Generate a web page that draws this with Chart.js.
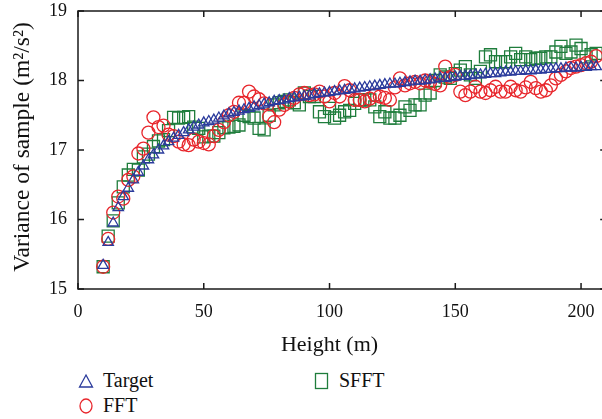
<!DOCTYPE html>
<html>
<head>
<meta charset="utf-8">
<script src="https://cdn.jsdelivr.net/npm/chart.js@4"></script>
<style>
  html, body { margin: 0; padding: 0; background: #fff; }
  body { width: 602px; height: 419px; overflow: hidden; position: relative; }
  #wrap { position: absolute; left: 0; top: 0; width: 616px; height: 360px; }
  .leg { position: absolute; font-family: "Liberation Serif", "DejaVu Serif", serif; font-size: 20px; color: #111; display: flex; align-items: center; }
  .leg svg { margin-right: 9px; }
</style>
</head>
<body>
<div id="wrap"><canvas id="varChart" width="616" height="360"></canvas></div>
<div id="legend"></div>
<script>
// heights (m)
const heights = [10,12,14,16,18,20,22,24,26,28,30,32,34,36,38,40,42,44,46,48,
  50,52,54,56,58,60,62,64,66,68,70,72,74,76,78,80,82,84,86,88,
  90,92,94,96,98,100,102,104,106,108,110,112,114,116,118,120,122,124,126,128,
  130,132,134,136,138,140,142,144,146,148,150,152,154,156,158,160,162,164,166,168,
  170,172,174,176,178,180,182,184,186,188,190,192,194,196,198,200,202,204,206];

const targetVals = [15.34,15.67,15.95,16.17,16.33,16.45,16.57,16.68,16.77,16.86,16.93,17.0,17.06,17.12,17.17,17.21,17.25,17.29,17.33,17.36,
  17.39,17.41,17.43,17.46,17.49,17.52,17.54,17.56,17.58,17.6,17.62,17.64,17.66,17.68,17.7,17.71,17.72,17.74,17.75,17.76,
  17.77,17.78,17.8,17.81,17.82,17.83,17.84,17.85,17.86,17.87,17.88,17.89,17.9,17.91,17.92,17.93,17.94,17.95,17.95,17.96,
  17.97,17.98,17.99,17.99,18.0,18.01,18.02,18.03,18.03,18.04,18.05,18.06,18.06,18.07,18.08,18.08,18.09,18.1,18.1,18.11,
  18.12,18.12,18.13,18.13,18.14,18.14,18.15,18.15,18.16,18.16,18.17,18.17,18.18,18.18,18.18,18.19,18.19,18.2,18.2];

const fftVals = [15.32,15.72,16.1,16.33,16.3,16.57,16.62,16.95,17.02,17.25,17.47,17.33,17.35,17.22,17.2,17.12,17.08,17.07,17.15,17.12,
  17.1,17.08,17.2,17.29,17.4,17.5,17.55,17.68,17.68,17.84,17.77,17.73,17.67,17.48,17.4,17.58,17.65,17.7,17.75,17.8,
  17.82,17.79,17.8,17.84,17.77,17.7,17.82,17.77,17.92,17.86,17.72,17.72,17.7,17.74,17.79,17.77,17.75,17.72,17.9,18.03,
  17.93,17.96,17.98,17.96,18.0,17.98,17.95,17.93,18.2,18.05,18.08,17.84,17.79,17.84,17.91,17.84,17.82,17.86,17.91,17.84,
  17.84,17.91,17.86,17.84,17.9,17.98,17.89,17.84,17.86,17.93,18.03,18.08,18.13,18.18,18.2,18.22,18.25,18.27,18.35];

const sfftVals = [15.32,15.76,15.98,16.24,16.47,16.64,16.72,16.71,16.9,16.94,17.05,17.13,17.15,17.28,17.47,17.46,17.47,17.48,17.33,17.31,
  17.19,17.2,17.2,17.25,17.32,17.33,17.34,17.36,17.5,17.48,17.46,17.31,17.29,17.5,17.65,17.68,17.7,17.72,17.68,17.65,
  17.82,17.77,17.77,17.55,17.48,17.6,17.46,17.5,17.55,17.57,17.67,17.72,17.72,17.72,17.62,17.48,17.55,17.46,17.46,17.5,
  17.62,17.57,17.65,17.65,17.79,17.82,18.0,18.08,18.05,18.03,18.1,18.15,18.2,18.08,18.03,18.13,18.34,18.37,18.27,18.27,
  18.27,18.34,18.39,18.3,18.34,18.3,18.32,18.32,18.34,18.34,18.41,18.49,18.39,18.41,18.51,18.46,18.34,18.37,18.39];

const xTicks = [0, 50, 100, 150, 200];
const yTicks = [15, 16, 17, 18, 19];

const serif = '"Liberation Serif", "DejaVu Serif", serif';
const blue = '#2b3b9c';
const red = '#e8262c';
const green = '#1f7d3c';

function toPoints(vals) {
    return heights.map((h, i) => ({ x: h, y: vals[i] }));
}

// frame, inward ticks and the axis titles
const framePlugin = {
    id: 'frame',
    afterDraw(chart) {
        const ctx = chart.ctx;
        const a = chart.chartArea;
        const xs = chart.scales.x, ys = chart.scales.y;
        ctx.save();
        ctx.strokeStyle = '#1a1a1a';
        ctx.lineWidth = 1.5;
        ctx.strokeRect(a.left, a.top, a.right - a.left, a.bottom - a.top);
        ctx.beginPath();
        xTicks.forEach(v => {
            const px = xs.getPixelForValue(v);
            ctx.moveTo(px, a.bottom); ctx.lineTo(px, a.bottom - 6);
            ctx.moveTo(px, a.top); ctx.lineTo(px, a.top + 6);
        });
        yTicks.forEach(v => {
            const py = ys.getPixelForValue(v);
            ctx.moveTo(a.left, py); ctx.lineTo(a.left + 6, py);
            ctx.moveTo(a.right, py); ctx.lineTo(a.right - 6, py);
        });
        ctx.stroke();
        ctx.fillStyle = '#111';
        ctx.textAlign = 'center';
        ctx.textBaseline = 'middle';
        ctx.font = '22px ' + serif;
        ctx.fillText('Height (m)', xs.getPixelForValue(100), a.bottom + 56);
        // y title: sized to span about 252 px, as in the original
        const yTitle = 'Variance of sample (m²/s²)';
        ctx.font = '20px ' + serif;
        const size = Math.min(24, 20 * 250 / ctx.measureText(yTitle).width);
        ctx.font = size.toFixed(1) + 'px ' + serif;
        ctx.translate(23, 147);
        ctx.rotate(-Math.PI / 2);
        ctx.fillText(yTitle, 0, 0);
        ctx.restore();
    }
};

const chart = new Chart(document.getElementById('varChart'), {
    type: 'scatter',
    data: {
        datasets: [
            { label: 'Target', data: toPoints(targetVals), pointStyle: 'triangle', radius: 6,
              borderColor: blue, backgroundColor: 'rgba(0,0,0,0)', borderWidth: 1.3 },
            { label: 'FFT', data: toPoints(fftVals), pointStyle: 'circle', radius: 6.5,
              borderColor: red, backgroundColor: 'rgba(0,0,0,0)', borderWidth: 1.3 },
            { label: 'SFFT', data: toPoints(sfftVals), pointStyle: 'rect', radius: 8.5,
              borderColor: green, backgroundColor: 'rgba(0,0,0,0)', borderWidth: 1.3 }
        ]
    },
    options: {
        responsive: false,
        animation: false,
        devicePixelRatio: 1,
        layout: { padding: 0 },
        plugins: { legend: { display: false }, tooltip: { enabled: false } },
        scales: {
            x: {
                type: 'linear', min: 0, max: 210,
                afterBuildTicks: s => { s.ticks = xTicks.map(v => ({ value: v })); },
                afterFit: s => { s.height = 71; },
                grid: { display: false, drawTicks: false },
                border: { display: false },
                ticks: { padding: 12, color: '#111', font: { family: serif, size: 18 } }
            },
            y: {
                min: 15, max: 19,
                afterBuildTicks: s => { s.ticks = yTicks.map(v => ({ value: v })); },
                afterFit: s => { s.width = 78; s.paddingTop = 11; s.paddingBottom = 0; },
                grid: { display: false, drawTicks: false },
                border: { display: false },
                ticks: { padding: 11, color: '#111', font: { family: serif, size: 18 } }
            }
        }
    },
    plugins: [framePlugin]
});

// legend below the chart, two columns
const icons = {
    triangle: c => `<svg width="16" height="16"><polygon points="8,2 14.5,14 1.5,14" fill="none" stroke="${c}" stroke-width="1.3"/></svg>`,
    circle: c => `<svg width="16" height="18"><ellipse cx="8" cy="9" rx="6" ry="7" fill="none" stroke="${c}" stroke-width="1.3"/></svg>`,
    rect: c => `<svg width="16" height="18"><rect x="1.5" y="1.5" width="12" height="15" fill="none" stroke="${c}" stroke-width="1.3"/></svg>`
};
const legendPos = [[78, 369], [78, 394], [314, 369]];
const legendEl = document.getElementById('legend');
chart.data.datasets.forEach((ds, i) => {
    const d = document.createElement('div');
    d.className = 'leg';
    d.style.left = legendPos[i][0] + 'px';
    d.style.top = legendPos[i][1] + 'px';
    d.innerHTML = icons[ds.pointStyle](ds.borderColor) + '<span>' + ds.label + '</span>';
    legendEl.appendChild(d);
});
</script>
</body>
</html>
